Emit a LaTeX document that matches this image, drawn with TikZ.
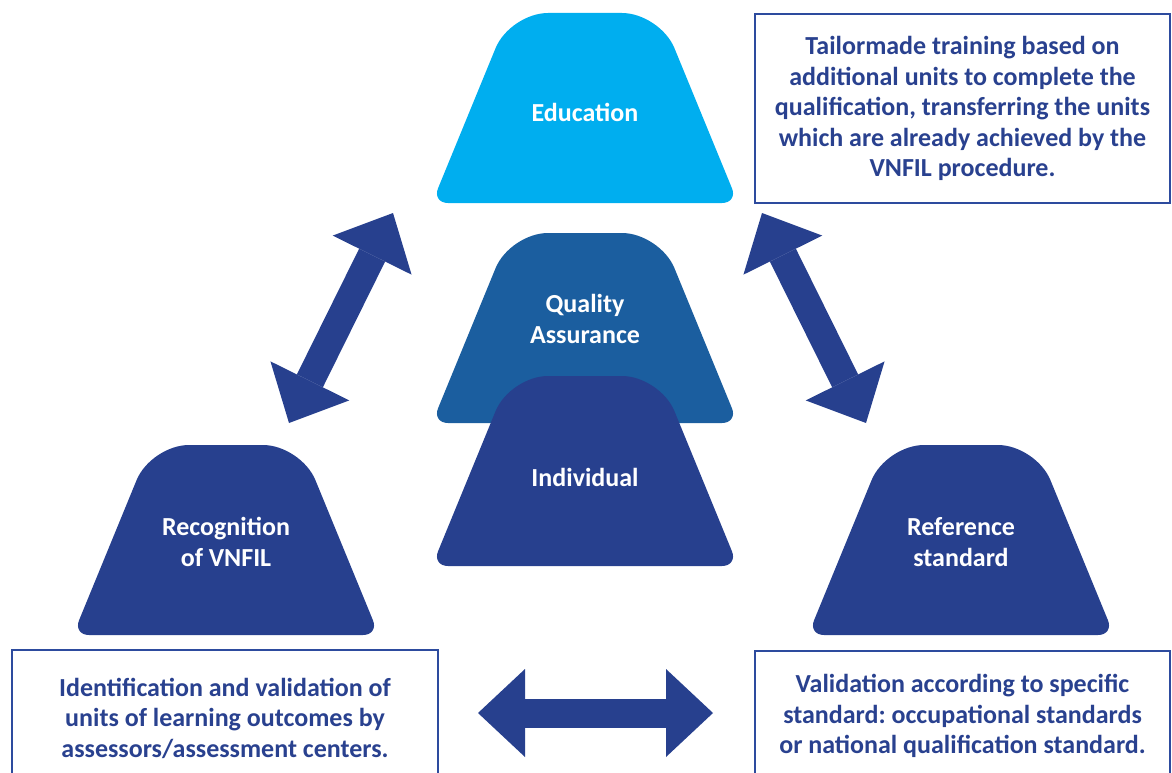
\documentclass[tikz,border=0pt]{standalone}
\usepackage{fontspec}
\setmainfont{Carlito}
\frenchspacing
\usetikzlibrary{calc,arrows.meta,backgrounds}
\definecolor{educyan}{HTML}{00AEEF}
\definecolor{qablue}{HTML}{1B5E9F}
\definecolor{navy}{HTML}{27408E}
\definecolor{boxline}{HTML}{2D4B9E}
\definecolor{boxtext}{HTML}{29418F}
\begin{document}
\begin{tikzpicture}[
            x=1pt, y=-1pt,
            trap/.style={
                rectangle,
                minimum width=306pt,
                minimum height=190pt,
                inner sep=0pt,
                outer sep=0pt
            },
            traptext/.style={
                text=white,
                align=center,
                inner sep=0pt,
                font=\fontsize{26}{30.5}\selectfont\bfseries
            },
            infobox/.style={
                rectangle,
                draw=boxline,
                line width=2pt,
                inner sep=0pt,
                text=boxtext,
                align=center,
                font=\fontsize{26}{30.5}\selectfont\bfseries
            },
            dblarrow/.style={
                draw=navy,
                line width=29pt,
                {Triangle[length=47pt,width=88pt,line width=0pt]}-{Triangle[length=47pt,width=88pt,line width=0pt]}
            }
        ]
        \useasboundingbox (0,0) rectangle (1172,773);
        \clip (0,0) rectangle (1172,773);

        % Trapezoid frames
        \node[trap] (edu) at (585,108) {};
        \node[trap] (qa) at (585,328) {};
        \node[trap] (ind) at (585,471) {};
        \node[trap] (rec) at (226,540) {};
        \node[trap] (ref) at (961,540) {};

        % Fill with round tops and tighter bottoms
        \foreach \n/\c in {edu/educyan, qa/qablue, ind/navy, rec/navy, ref/navy}{
            \fill[\c] (\n.south) [rounded corners=16pt] -- (\n.south west)
                [rounded corners=38pt] -- ($(\n.north west)+(78,0)$) -- ($(\n.north east)+(-78,0)$)
                [rounded corners=16pt] -- (\n.south east) -- cycle;
        }

        % Labels
        \node[traptext] (edut) at ($(edu)+(0,4)$) {Education};
        \node[traptext] (qat) at ($(qa)+(0,-9)$) {Quality\\Assurance};
        \node[traptext] (indt) at ($(ind)+(0,6)$) {Individual};
        \node[traptext] (rect) at ($(rec)+(0,2)$) {Recognition\\of VNFIL};
        \node[traptext] (reft) at ($(ref)+(0,2)$) {Reference\\standard};

        % Text boxes
        \node[infobox, minimum width=415pt, minimum height=189pt] (tailor) at (962.5,108.5)
            {Tailormade training based on\\additional units to complete the\\qualification, transferring the units\\which are already achieved by the\\VNFIL procedure.};
        \node[infobox, minimum width=426pt, minimum height=136pt] (ident) at (225,718)
            {Identification and validation of\\units of learning outcomes by\\assessors/assessment centers.};
        \node[infobox, minimum width=415pt, minimum height=130pt] (valid) at (962.5,716)
            {Validation according to specific\\standard: occupational standards\\or national qualification standard.};

        % Arrow ends
        \coordinate (recup) at (289,423);
        \coordinate (edudown) at (393,213);
        \coordinate (refup) at (866,423);
        \coordinate (eduright) at (762,213);
        \coordinate (identright) at (478,713);
        \coordinate (validleft) at (713,713);

        % Connecting arrows
        \draw[dblarrow] (recup) -- (edudown);
        \draw[dblarrow] (eduright) -- (refup);
        \draw[dblarrow] (identright) -- (validleft);

\end{tikzpicture}
\end{document}
